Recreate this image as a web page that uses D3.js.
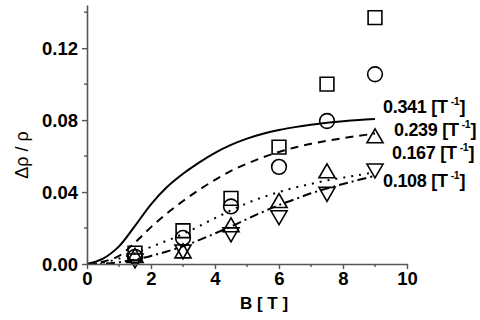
<!DOCTYPE html>
<html>
<head>
<meta charset="utf-8">
<script src="https://cdn.jsdelivr.net/npm/d3@7"></script>
<style>
  body { margin: 0; background: #fff; }
  text { font-family: Arial, "Liberation Sans", sans-serif; }
</style>
</head>
<body>
<svg id="chart" width="480" height="320"></svg>
<script>
// measured points (B in T)
var fieldB = [1.5, 3, 4.5, 6, 7.5, 9];
var squares = [0.006, 0.0185, 0.0365, 0.065, 0.100, 0.137];
var circles = [0.004, 0.0145, 0.032, 0.054, 0.0795, 0.1055];
var upTris = [0.0035, 0.006, 0.0205, 0.034, 0.0505, 0.070];
var downTris = [0.003, 0.008, 0.0175, 0.027, 0.040, 0.053];

// fit curves
var curveB = [0, 0.5, 1, 1.5, 2, 2.5, 3, 3.5, 4, 4.5, 5, 5.5, 6, 6.5, 7, 7.5, 8, 8.5, 9];
var fitSolid = [0, 0.0030, 0.0098, 0.0212, 0.0332, 0.0428, 0.0502, 0.0564, 0.0618, 0.0662, 0.0697, 0.0724, 0.0745, 0.0761, 0.0774, 0.0785, 0.0794, 0.0801, 0.0806];
var fitDashed = [0, 0.0013, 0.0045, 0.0120, 0.0205, 0.0282, 0.0350, 0.0412, 0.0468, 0.0518, 0.0558, 0.0593, 0.0623, 0.0648, 0.0668, 0.0685, 0.0700, 0.0713, 0.0725];
var fitDotted = [0, 0.0008, 0.0030, 0.0060, 0.0095, 0.0130, 0.0167, 0.0210, 0.0255, 0.0298, 0.0338, 0.0372, 0.0400, 0.0425, 0.0445, 0.0465, 0.0480, 0.0495, 0.0510];
var fitDashDot = [0, 0.0002, 0.0010, 0.0025, 0.0045, 0.0070, 0.0098, 0.0133, 0.0170, 0.0208, 0.0250, 0.0290, 0.0328, 0.0360, 0.0393, 0.0420, 0.0445, 0.0468, 0.0490];

var fitLabels = ["0.341", "0.239", "0.167", "0.108"];
var xTicks = [0, 2, 4, 6, 8, 10];
var yTicks = [0, 0.04, 0.08, 0.12];

var svg = d3.select("#chart");

var xScale = d3.scaleLinear().domain([0, 10]).range([87, 407]);
var yScale = d3.scaleLinear().domain([0, 0.144]).range([264, 5]);

// curves
var line = d3.line()
  .x(function (d) { return xScale(d[0]); })
  .y(function (d) { return yScale(d[1]); })
  .curve(d3.curveCatmullRom.alpha(0.5));

var fits = [
  { vals: fitSolid, dash: null },
  { vals: fitDashed, dash: "8,6" },
  { vals: fitDotted, dash: "2,6" },
  { vals: fitDashDot, dash: "9,4,2,4" },
];
fits.forEach(function (f) {
  svg.append("path")
    .datum(curveB.map(function (b, i) { return [b, f.vals[i]]; }))
    .attr("d", line)
    .attr("fill", "none")
    .attr("stroke", "#000")
    .attr("stroke-width", 2)
    .attr("stroke-dasharray", f.dash);
});

// markers
var series = [
  { vals: squares, type: d3.symbolSquare, size: 190, rot: 0 },
  { vals: circles, type: d3.symbolCircle, size: 170, rot: 0 },
  { vals: upTris, type: d3.symbolTriangle, size: 112, rot: 0 },
  { vals: downTris, type: d3.symbolTriangle, size: 112, rot: 180 },
];
series.forEach(function (s) {
  svg.append("g")
    .selectAll("path")
    .data(s.vals)
    .enter()
    .append("path")
    .attr("d", d3.symbol().type(s.type).size(s.size))
    .attr("transform", function (d, i) {
      return "translate(" + xScale(fieldB[i]) + "," + yScale(d) + ") rotate(" + s.rot + ")";
    })
    .attr("fill", "none")
    .attr("stroke", "#000")
    .attr("stroke-width", 1.6);
});

// axes
var xAxis = d3.axisBottom(xScale).tickValues(xTicks).tickSize(5).tickSizeOuter(0);
var gx = svg.append("g")
  .attr("transform", "translate(0," + yScale(0) + ")")
  .call(xAxis);
[1, 3, 5, 7, 9].forEach(function (v) {
  gx.append("line").attr("class", "minor")
    .attr("x1", xScale(v)).attr("x2", xScale(v)).attr("y1", 0).attr("y2", 3);
});

var yAxis = d3.axisLeft(yScale).tickValues(yTicks).tickSize(5).tickSizeOuter(0)
  .tickFormat(d3.format(".2f"));
var gy = svg.append("g")
  .attr("transform", "translate(" + xScale(0) + ",0)")
  .call(yAxis);
[0.02, 0.06, 0.10, 0.14].forEach(function (v) {
  gy.append("line").attr("class", "minor")
    .attr("x1", 0).attr("x2", -3).attr("y1", yScale(v)).attr("y2", yScale(v));
});

svg.selectAll(".domain").attr("stroke", "#555").attr("stroke-width", 1.6);
svg.selectAll(".tick line, .minor").attr("stroke", "#555").attr("stroke-width", 1.4);

gx.selectAll("text")
  .attr("font-size", 18.5).attr("font-weight", "bold").attr("fill", "#000")
  .attr("y", 8).attr("dy", "0.71em");
gy.selectAll("text")
  .attr("font-size", 18.5).attr("font-weight", "bold").attr("fill", "#000")
  .attr("x", -9).attr("dy", "0.36em");

// axis titles
svg.append("text")
  .attr("x", 264).attr("y", 309)
  .attr("text-anchor", "middle")
  .attr("font-size", 17).attr("font-weight", "bold")
  .attr("xml:space", "preserve")
  .text("B [ T ]");

svg.append("text")
  .attr("transform", "translate(28,155) rotate(-90)")
  .attr("text-anchor", "middle")
  .attr("font-size", 18)
  .attr("xml:space", "preserve")
  .text("Δρ / ρ");

// curve labels
var labelPos = [[383, 113], [394, 136], [392, 159], [383, 187]];
fitLabels.forEach(function (lab, i) {
  var t = svg.append("text")
    .attr("x", labelPos[i][0]).attr("y", labelPos[i][1])
    .attr("font-size", 18).attr("font-weight", "bold")
    .attr("letter-spacing", -0.3);
  t.append("tspan").text(lab + " [T");
  t.append("tspan").attr("font-size", 10.5).attr("dx", 3).attr("dy", -8).text("-1");
  t.append("tspan").attr("dy", 8).text("]");
});
</script>
</body>
</html>
